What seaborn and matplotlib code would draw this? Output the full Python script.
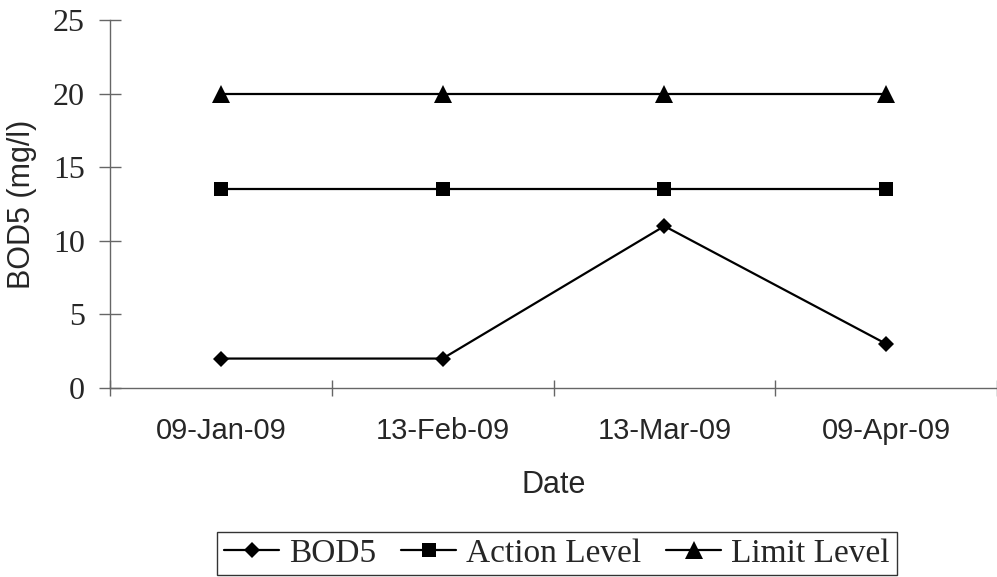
import numpy as np
import pandas as pd
import matplotlib
matplotlib.use("Agg")
import matplotlib.pyplot as plt
import seaborn as sns

# values
dates = ["09-Jan-09", "13-Feb-09", "13-Mar-09", "09-Apr-09"]
bod5 = [2, 2, 11, 3]
action_level = [13.5, 13.5, 13.5, 13.5]
limit_level = [20, 20, 20, 20]
series_names = ["BOD5", "Action Level", "Limit Level"]
y_ticks = [0, 5, 10, 15, 20, 25]

df = pd.DataFrame({
    "pos": list(range(len(dates))) * 3,
    "value": bod5 + action_level + limit_level,
    "series": [s for s in series_names for _ in dates],
})

sns.set_style("white")
plt.rcParams["font.family"] = ["Liberation Sans", "DejaVu Sans"]

fig = plt.figure(figsize=(9.97, 5.77), dpi=100)
ax = fig.add_axes([110 / 997, 1 - 388 / 577, 887 / 997, 368 / 577])

sns.lineplot(
    data=df, x="pos", y="value", hue="series", style="series",
    hue_order=series_names, style_order=series_names,
    palette=["black"] * 3, dashes=False,
    markers={"BOD5": "D", "Action Level": "s", "Limit Level": "^"},
    markersize=9, linewidth=1.6, markeredgewidth=0,
    ax=ax, legend=False,
)
# marker sizes differ per series
for line, ms in zip(ax.lines, [8.5, 10.5, 13]):
    line.set_markersize(ms)

ax.set_xlim(-0.5, -0.5 + 887 / 223)
ax.set_ylim(0, 25)
ax.set_yticks(y_ticks)
ax.set_yticklabels([str(v) for v in y_ticks], family="Liberation Serif", fontsize=23)
ax.set_xticks(range(len(dates)))
ax.set_xticklabels(dates, fontsize=21)
ax.set_xticks(np.arange(-0.5, len(dates), 1.0), minor=True)
ax.tick_params(left=True, bottom=True, which="both")
ax.tick_params(axis="x", which="major", length=0, pad=21)
ax.tick_params(axis="x", which="minor", direction="inout", length=12, width=1, color="#666666")
ax.tick_params(axis="y", direction="inout", length=16, width=1, color="#666666", pad=10)

for side in ["top", "right"]:
    ax.spines[side].set_visible(False)
for side in ["left", "bottom"]:
    ax.spines[side].set_color("#666666")
    ax.spines[side].set_linewidth(1)

ax.set_xlabel("Date", fontsize=22, va="center")
ax.xaxis.set_label_coords(0.5, (388 - 485) / 368)
ax.set_ylabel("BOD5 (mg/l)", fontsize=22, va="center")
ax.yaxis.set_label_coords((22 - 110) / 887, 0.5)

handles = ax.lines[:3]
leg = fig.legend(
    handles, series_names, loc="center", ncol=3,
    bbox_to_anchor=(557 / 997, 1 - 553.5 / 577),
    prop={"family": "Liberation Serif", "size": 24},
    frameon=True, fancybox=False, edgecolor="black",
    handlelength=1.65, handletextpad=0.3, columnspacing=0.75,
    borderpad=0.2, borderaxespad=0,
)
leg.get_frame().set_linewidth(1)

fig.savefig("out.png", dpi=100)
